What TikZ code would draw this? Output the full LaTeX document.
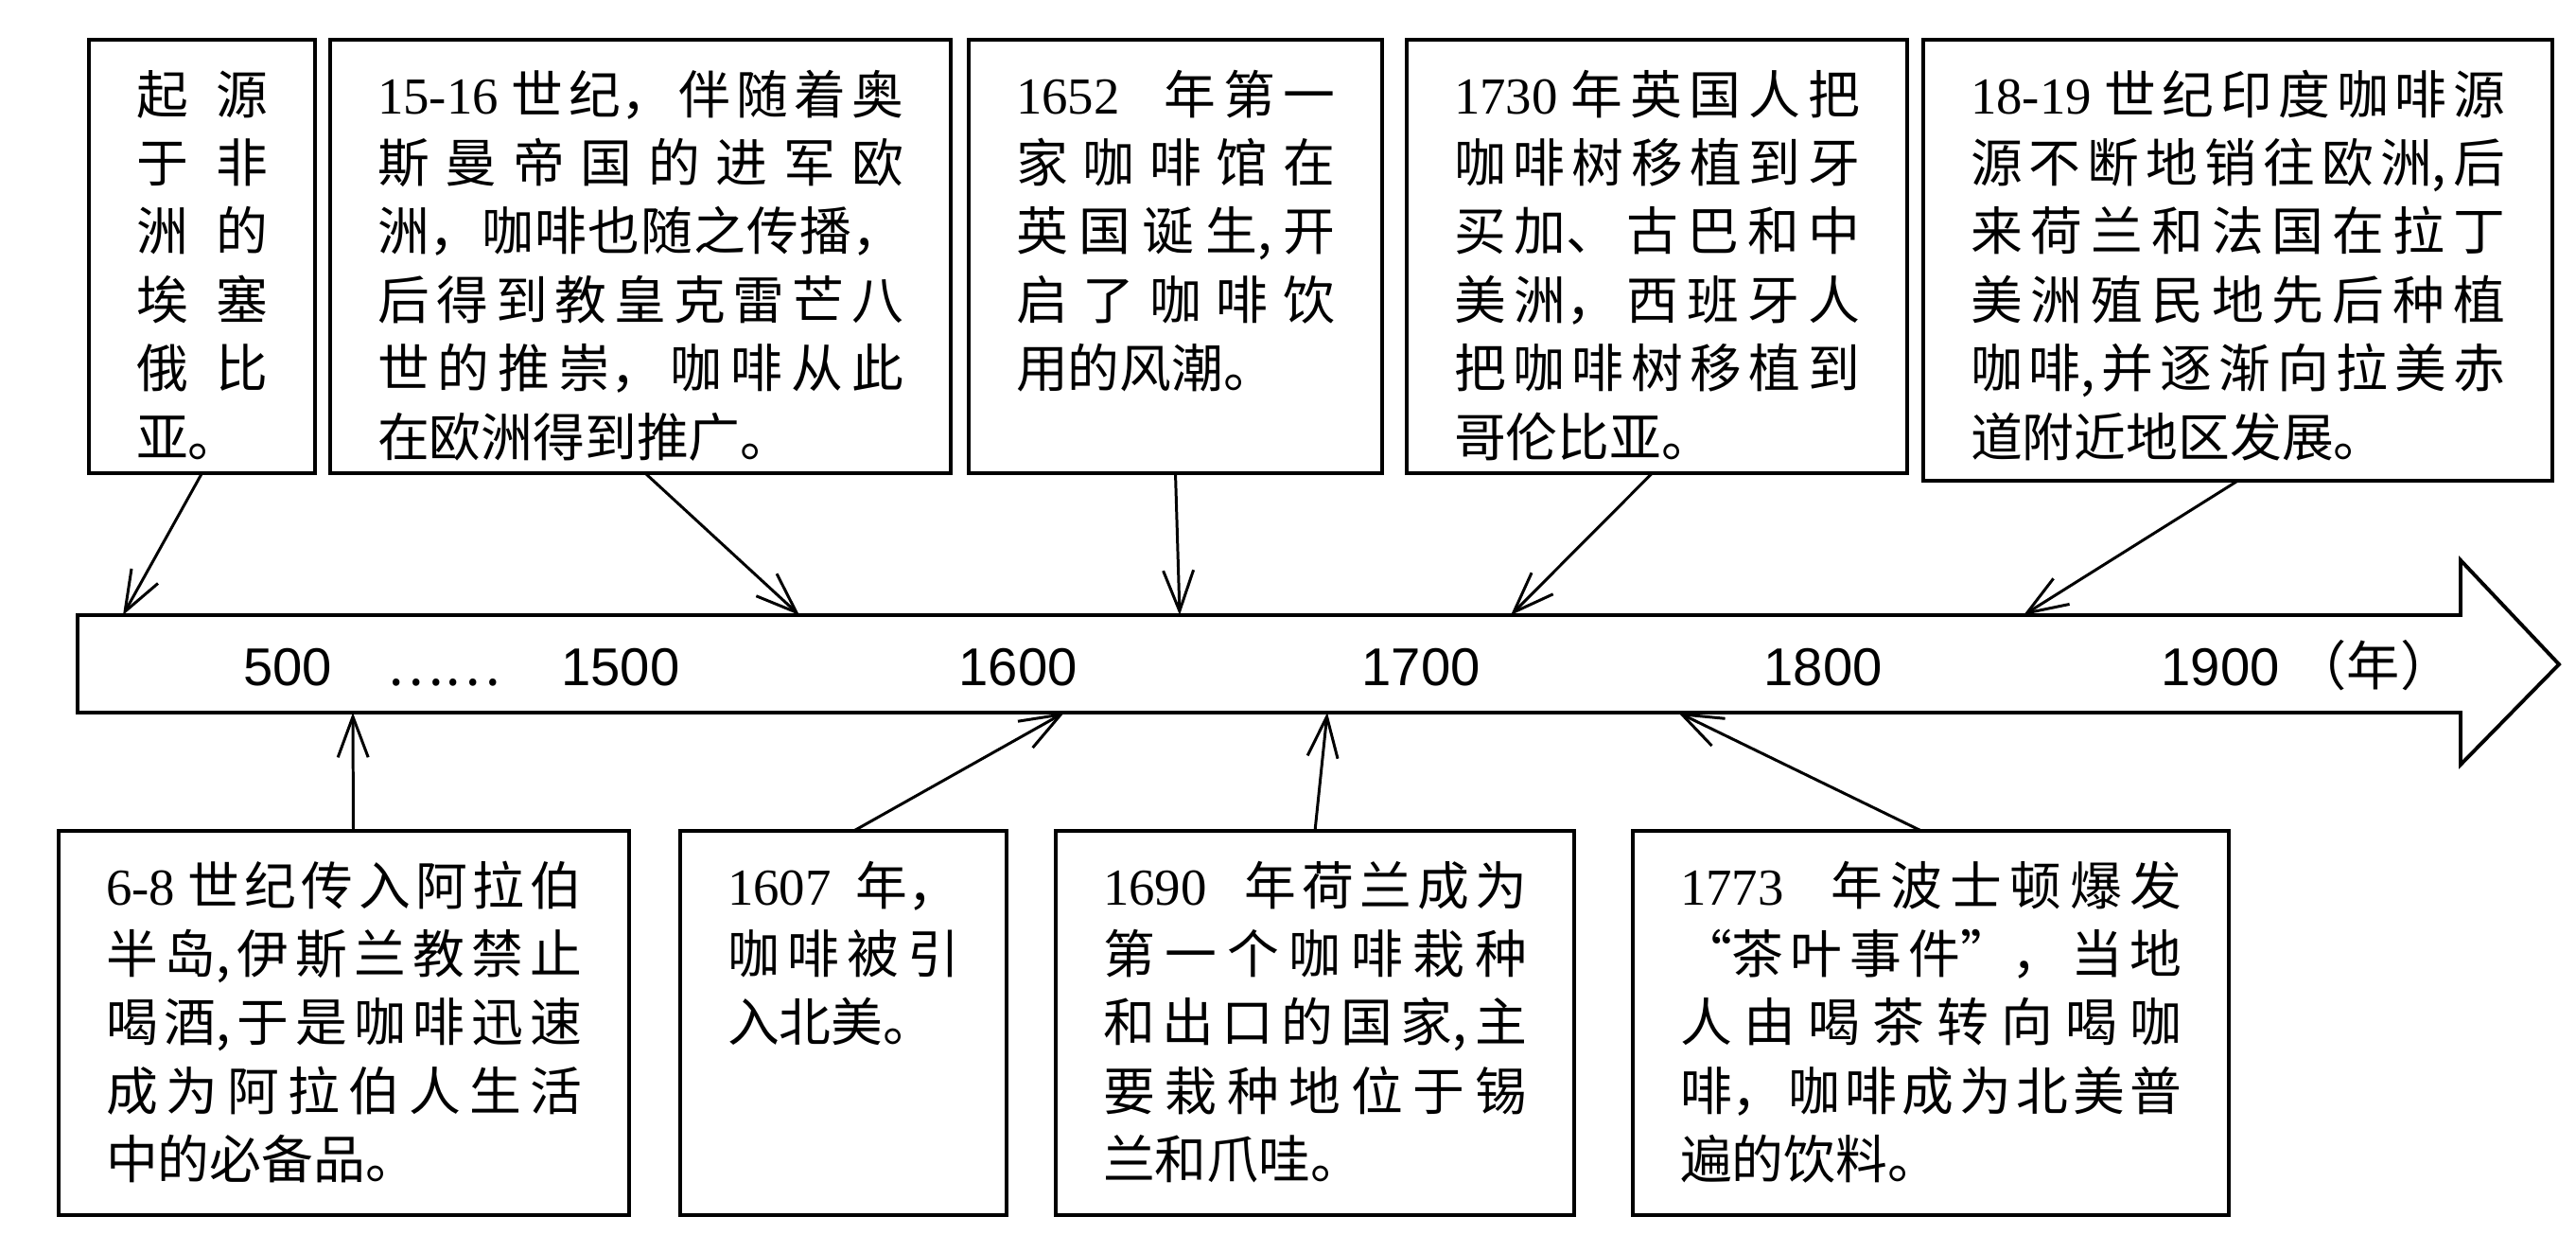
\documentclass[tikz,border=0pt]{standalone}
\usepackage{fontspec}
\usetikzlibrary{arrows.meta}
\setmainfont{Liberation Serif}
\newfontfamily\cjk{Noto Sans CJK SC}
\newfontfamily\lblfont{Liberation Sans}
\newcommand\yr[1]{\mbox{\rmfamily #1}}
\newcommand\yrgap{\hspace{0.2em plus 3em}}
\XeTeXlinebreaklocale "zh"
\XeTeXlinebreakskip=0pt plus 10pt
\tikzset{
  box/.style={draw, line width=1.1pt, anchor=north west, outer sep=0pt,
    inner xsep=0.5cm, inner ysep=0.28cm, align=justify, text height=0.5cm,
    font=\cjk\fontsize{15.6pt}{20.6pt}\selectfont},
  topbox/.style={box, text depth=3.52cm},
  lowbox/.style={box, text depth=3.00cm},
  yearlbl/.style={anchor=base, inner sep=0pt, font=\lblfont\fontsize{16pt}{19pt}\selectfont},
}
\begin{document}
\begin{tikzpicture}
  \useasboundingbox (0,0) rectangle (27.23,-13.22);
  % time axis
  \draw[line width=1.1pt, line join=miter]
    (0.82,-6.50) -- (26.01,-6.50) -- (26.01,-5.92) -- (27.05,-7.02)
    -- (26.01,-8.08) -- (26.01,-7.53) -- (0.82,-7.53) -- cycle;
  \draw
    (3.04,-7.24) node[yearlbl] (y500){500}
    (4.69,-7.24) node[yearlbl, font=\cjk\fontsize{16pt}{19pt}\selectfont] (gap){……}
    (6.56,-7.24) node[yearlbl] (y1500){1500}
    (10.76,-7.24) node[yearlbl] (y1600){1600}
    (15.02,-7.24) node[yearlbl] (y1700){1700}
    (19.27,-7.24) node[yearlbl] (y1800){1800}
    (23.47,-7.24) node[yearlbl] (y1900){1900}
    (25.09,-7.24) node[yearlbl, font=\cjk\fontsize{16pt}{19pt}\selectfont] (unit){（年）};
  \coordinate (onorigin) at (1.30,-6.50);
  \coordinate (on1515) at (8.45,-6.50);
  \coordinate (on1652) at (12.47,-6.50);
  \coordinate (on1730) at (15.97,-6.50);
  \coordinate (on1819) at (21.39,-6.50);
  \coordinate (on0608) at (3.73,-7.53);
  \coordinate (on1607) at (11.25,-7.53);
  \coordinate (on1690) at (14.03,-7.53);
  \coordinate (on1773) at (17.74,-7.53);
  % upper boxes
  \draw
    (0.94,-0.42) node[topbox, text width=1.39cm] (origin){起源\linebreak 于非\linebreak 洲的\linebreak 埃塞\linebreak 俄比\linebreak 亚。}
    (3.49,-0.42) node[topbox, text width=5.56cm] (1515){\yr{15-16} 世纪，伴随着奥\linebreak 斯曼帝国的进军欧\linebreak 洲，咖啡也随之传播，\linebreak 后得到教皇克雷芒八\linebreak 世的推崇，咖啡从此\linebreak 在欧洲得到推广。}
    (10.24,-0.42) node[topbox, text width=3.37cm] (1652){\yr{1652}\yrgap 年第一\linebreak 家咖啡馆在\linebreak 英国诞生,开\linebreak 启了咖啡饮\linebreak 用的风潮。}
    (14.87,-0.42) node[topbox, text width=4.29cm] (1730){\yr{1730} 年英国人把\linebreak 咖啡树移植到牙\linebreak 买加、古巴和中\linebreak 美洲，西班牙人\linebreak 把咖啡树移植到\linebreak 哥伦比亚。}
    (20.33,-0.42) node[topbox, text depth=3.60cm, text width=5.65cm] (1819){\yr{18-19} 世纪印度咖啡源\linebreak 源不断地销往欧洲,后\linebreak 来荷兰和法国在拉丁\linebreak 美洲殖民地先后种植\linebreak 咖啡,并逐渐向拉美赤\linebreak 道附近地区发展。};
  % lower boxes
  \draw
    (0.62,-8.78) node[lowbox, text width=5.03cm] (0608){\yr{6-8} 世纪传入阿拉伯\linebreak 半岛,伊斯兰教禁止\linebreak 喝酒,于是咖啡迅速\linebreak 成为阿拉伯人生活\linebreak 中的必备品。}
    (7.19,-8.78) node[lowbox, text width=2.45cm] (1607){\yr{1607} 年，\linebreak 咖啡被引\linebreak 入北美。}
    (11.16,-8.78) node[lowbox, text width=4.48cm] (1690){\yr{1690}\yrgap 年荷兰成为\linebreak 第一个咖啡栽种\linebreak 和出口的国家,主\linebreak 要栽种地位于锡\linebreak 兰和爪哇。}
    (17.26,-8.78) node[lowbox, text width=5.30cm] (1773){\yr{1773}\yrgap 年波士顿爆发\linebreak “茶叶事件”，当地\linebreak 人由喝茶转向喝咖\linebreak 啡，咖啡成为北美普\linebreak 遍的饮料。};
  \begin{scope}[-{Straight Barb[length=4.3mm,width=3.2mm]}, line width=0.85pt]
    \draw (origin.south) to (onorigin);
    \draw ([xshift=0.05cm]1515.south) to (on1515);
    \draw (1652.south) to (on1652);
    \draw ([xshift=-0.05cm]1730.south) to (on1730);
    \draw (1819.south) to (on1819);
    \draw ([xshift=0.1cm]0608.north) to (on0608);
    \draw ([xshift=0.11cm]1607.north) to (on1607);
    \draw (1690.north) to (on1690);
    \draw ([xshift=-0.1cm]1773.north) to (on1773);
  \end{scope}
\end{tikzpicture}
\end{document}
